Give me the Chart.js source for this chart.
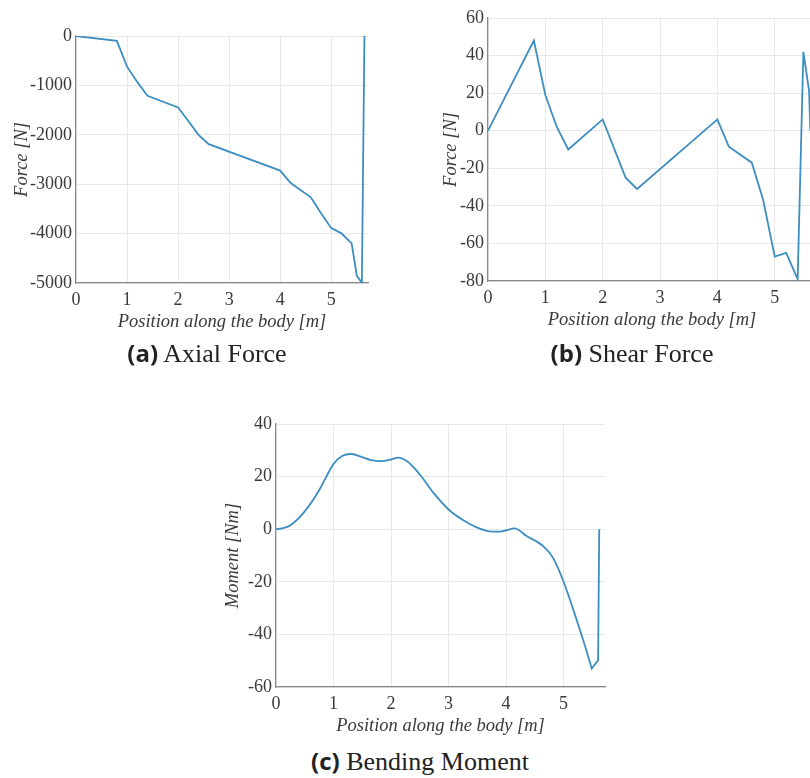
<!DOCTYPE html>
<html>
<head>
<meta charset="utf-8">
<script src="https://cdn.jsdelivr.net/npm/chart.js@4.4.1/dist/chart.umd.min.js"></script>
<style>
  html, body { margin: 0; padding: 0; background: #fff; }
  body { width: 810px; height: 778px; overflow: hidden; position: relative; }
  .box { position: absolute; }
  .cap { position: absolute; font-family: "Liberation Serif", serif; font-size: 26px; color: #222; white-space: nowrap; transform: translate(-50%, -50%); }
  .cap b { font-family: "Open Sans", sans-serif; font-weight: 700; font-size: 24px; }
</style>
</head>
<body>
<div class="box" style="left:7px; top:20px; width:371px; height:316px;"><canvas id="axial"></canvas></div>
<div class="box" style="left:436px; top:2px; width:390px; height:332px;"><canvas id="shear"></canvas></div>
<div class="box" style="left:218px; top:408px; width:397px; height:332px;"><canvas id="moment"></canvas></div>
<div class="cap" style="left:207px; top:352px;"><b>(a)</b> Axial Force</div>
<div class="cap" style="left:632px; top:352px;"><b>(b)</b> Shear Force</div>
<div class="cap" style="left:420px; top:760px;"><b>(c)</b> Bending Moment</div>
<script>
// valores
const xTicks = [0, 1, 2, 3, 4, 5];

const axialX = [0, 0.8, 1.0, 1.2, 1.4, 2.0, 2.2, 2.4, 2.6, 4.0, 4.2, 4.6, 4.8, 5.0, 5.2, 5.4, 5.5, 5.6, 5.65];
const axialF = [0, -100, -620, -930, -1210, -1445, -1720, -2000, -2190, -2725, -2970, -3265, -3590, -3890, -3995, -4200, -4850, -5000, 0];
const axialTicks = [-5000, -4000, -3000, -2000, -1000, 0];

const shearX = [0, 0.8, 1.0, 1.2, 1.4, 2.0, 2.4, 2.6, 4.0, 4.2, 4.6, 4.8, 5.0, 5.2, 5.4, 5.5, 5.6, 5.62];
const shearF = [0, 48, 19, 2, -10, 6, -25, -31, 6, -8.5, -17, -37, -67, -65, -79, 42, 21, 0];
const shearTicks = [-80, -60, -40, -20, 0, 20, 40, 60];

const momentX = [0, 0.1, 0.25, 0.5, 0.75, 0.9, 1.0, 1.15, 1.3, 1.45, 1.65, 1.82, 2.0, 2.12, 2.28, 2.5, 2.75, 3.0, 3.25, 3.5, 3.75, 3.9, 4.0, 4.15, 4.35, 4.65, 4.82, 5.0, 5.19, 5.36, 5.49, 5.6, 5.62];
const momentM = [0, 0.3, 1.5, 6.8, 14.8, 21, 24.8, 27.8, 28.6, 27.8, 26.3, 25.9, 26.5, 27.2, 25.8, 20.8, 13.5, 7.5, 3.5, 0.6, -0.9, -0.9, -0.4, 0.3, -2.5, -6.5, -11, -20, -32, -43.5, -53, -49.8, 0];
const momentTicks = [-60, -40, -20, 0, 20, 40];
const momentSmoothEnd = 29; // a partir de x=5.36 a curva e reta

const lineColor = '#3d8ec0';
const tickFont = { family: 'Liberation Serif', size: 18 };
const titleFont = { family: 'Liberation Serif', size: 18.5, style: 'italic' };

function pontos(xs, ys) {
    return xs.map((x, i) => ({ x: x, y: ys[i] }));
}

function serie(data, smooth) {
    return {
        data: data,
        borderColor: lineColor,
        borderWidth: 1.8,
        pointRadius: 0,
        fill: false,
        cubicInterpolationMode: smooth ? 'monotone' : 'default',
        tension: 0
    };
}

function grafico(id, datasets, yTicks, yTitle, yWidth) {
    const ctx = document.getElementById(id);
    return new Chart(ctx, {
        type: 'line',
        data: { datasets: datasets },
        options: {
            animation: false,
            responsive: true,
            maintainAspectRatio: false,
            layout: { padding: { top: 16, right: 10, left: 0, bottom: 0 } },
            plugins: { legend: { display: false }, tooltip: { enabled: false } },
            scales: {
                x: {
                    type: 'linear',
                    min: 0,
                    max: 5.72,
                    afterBuildTicks: s => { s.ticks = xTicks.map(v => ({ value: v })); },
                    afterFit: s => { s.height = 53; },
                    grid: { color: '#e8e8e8', drawTicks: false },
                    border: { color: '#8a8a8a', width: 1.2 },
                    ticks: { font: tickFont, color: '#3a3a3a', padding: 6, maxRotation: 0, callback: v => String(v) },
                    title: { display: true, text: 'Position along the body [m]', font: titleFont, color: '#3a3a3a', padding: { top: 4, bottom: 3 } }
                },
                y: {
                    type: 'linear',
                    min: yTicks[0],
                    max: yTicks[yTicks.length - 1],
                    afterBuildTicks: s => { s.ticks = yTicks.map(v => ({ value: v })); },
                    afterFit: s => { s.width = yWidth; },
                    grid: { color: '#e8e8e8', drawTicks: false },
                    border: { color: '#8a8a8a', width: 1.2 },
                    ticks: { font: tickFont, color: '#3a3a3a', padding: 4, callback: v => String(v) },
                    title: { display: true, text: yTitle, font: titleFont, color: '#3a3a3a', padding: { top: 4, bottom: 4 } }
                }
            }
        }
    });
}

grafico('axial', [serie(pontos(axialX, axialF), false)], axialTicks, 'Force [N]', 69);
grafico('shear', [serie(pontos(shearX, shearF), false)], shearTicks, 'Force [N]', 52);
const momentoPts = pontos(momentX, momentM);
grafico('moment', [
    serie(momentoPts.slice(0, momentSmoothEnd + 1), true),
    serie(momentoPts.slice(momentSmoothEnd), false)
], momentTicks, 'Moment [Nm]', 58);
</script>
</body>
</html>
